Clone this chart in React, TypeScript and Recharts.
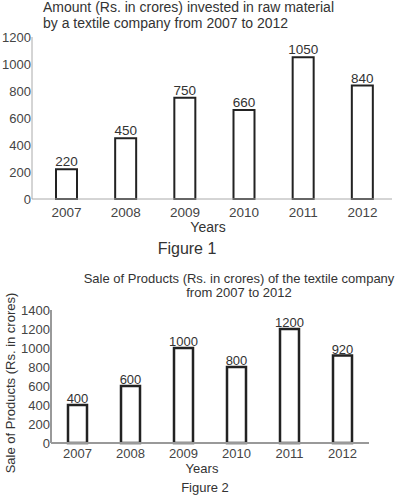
import { Bar, BarChart, LabelList, XAxis, YAxis } from "recharts";

const years = ["2007", "2008", "2009", "2010", "2011", "2012"];
const rawMaterial = [220, 450, 750, 660, 1050, 840];
const sales = [400, 600, 1000, 800, 1200, 920];
const ticks1 = [0, 200, 400, 600, 800, 1000, 1200];
const ticks2 = [0, 200, 400, 600, 800, 1000, 1200, 1400];

const data1 = years.map((y, i) => ({ year: y, value: rawMaterial[i] }));
const data2 = years.map((y, i) => ({ year: y, value: sales[i] }));

const font = "'Liberation Sans', Arial, sans-serif";
const textColor = "#333";

const Txt = ({
    x,
    y,
    size = 13,
    align = "center",
    children,
}: {
    x: number;
    y: number;
    size?: number;
    align?: "center" | "left";
    children: React.ReactNode;
}) => (
    <div
        style={{
            position: "absolute",
            left: x,
            top: y,
            transform: align === "center" ? "translate(-50%, -50%)" : "translate(0, -50%)",
            fontSize: size,
            color: textColor,
            whiteSpace: "nowrap",
            lineHeight: 1,
        }}
    >
        {children}
    </div>
);

const App = () => {
    return (
        <div
            style={{
                position: "absolute",
                left: 0,
                top: 0,
                width: 399,
                height: 496,
                background: "#fff",
                fontFamily: font,
            }}
        >
            <Txt x={43} y={7} size={14} align="left">Amount (Rs. in crores) invested in raw material</Txt>
            <Txt x={43} y={23} size={14} align="left">by a textile company from 2007 to 2012</Txt>

            <div style={{ position: "absolute", left: 0, top: 0 }}>
                <BarChart
                    width={399}
                    height={232}
                    data={data1}
                    margin={{ top: 37, right: 7, left: 0, bottom: 3 }}
                >
                    <XAxis
                        dataKey="year"
                        stroke="#aaa"
                        tickLine={false}
                        tickSize={0}
                        tickMargin={8}
                        height={30}
                        interval={0}
                        padding={{ left: 5, right: 0 }}
                        tick={{ fill: "#444", fontSize: 13.5, fontFamily: font }}
                    />
                    <YAxis
                        width={32}
                        domain={[0, 1200]}
                        ticks={ticks1}
                        interval={0}
                        stroke="#aaa"
                        tickLine={false}
                        tickSize={0}
                        tickMargin={1}
                        tick={{ fill: "#444", fontSize: 13, fontFamily: font }}
                    />
                    <Bar
                        dataKey="value"
                        fill="#fff"
                        stroke="#222"
                        strokeWidth={2}
                        barSize={21}
                        isAnimationActive={false}
                    >
                        <LabelList
                            dataKey="value"
                            position="top"
                            offset={3}
                            fill="#333"
                            fontSize={13.5}
                            fontFamily={font}
                        />
                    </Bar>
                </BarChart>
            </div>

            <Txt x={208} y={227} size={14}>Years</Txt>
            <Txt x={187} y={249} size={16}>Figure 1</Txt>

            <Txt x={239} y={278} size={13}>Sale of Products (Rs. in crores) of the textile company</Txt>
            <Txt x={239} y={292} size={13}>from 2007 to 2012</Txt>

            <div style={{ position: "absolute", left: 0, top: 290 }}>
                <BarChart
                    width={399}
                    height={180}
                    data={data2}
                    margin={{ top: 20, right: 30, left: 0, bottom: 0 }}
                >
                    <XAxis
                        dataKey="year"
                        stroke="#999"
                        strokeWidth={2}
                        tickLine={false}
                        tickSize={0}
                        tickMargin={6}
                        height={27}
                        interval={0}
                        tick={{ fill: "#444", fontSize: 13, fontFamily: font }}
                    />
                    <YAxis
                        width={51}
                        domain={[0, 1400]}
                        ticks={ticks2}
                        interval={0}
                        stroke="#999"
                        strokeWidth={2}
                        tickLine={false}
                        tickSize={0}
                        tickMargin={1}
                        tick={{ fill: "#444", fontSize: 13, fontFamily: font }}
                    />
                    <Bar
                        dataKey="value"
                        fill="#fff"
                        stroke="#222"
                        strokeWidth={2.5}
                        barSize={19}
                        isAnimationActive={false}
                    >
                        <LabelList
                            dataKey="value"
                            position="top"
                            offset={2}
                            fill="#333"
                            fontSize={13}
                            fontFamily={font}
                        />
                    </Bar>
                </BarChart>
            </div>

            <div
                style={{
                    position: "absolute",
                    left: 10,
                    top: 383,
                    transform: "translate(-50%, -50%) rotate(-90deg)",
                    fontSize: 13,
                    color: textColor,
                    whiteSpace: "nowrap",
                    lineHeight: 1,
                }}
            >
                Sale of Products (Rs. in crores)
            </div>
            <Txt x={202} y={468}>Years</Txt>
            <Txt x={205} y={487}>Figure 2</Txt>
        </div>
    );
};

export default App;
